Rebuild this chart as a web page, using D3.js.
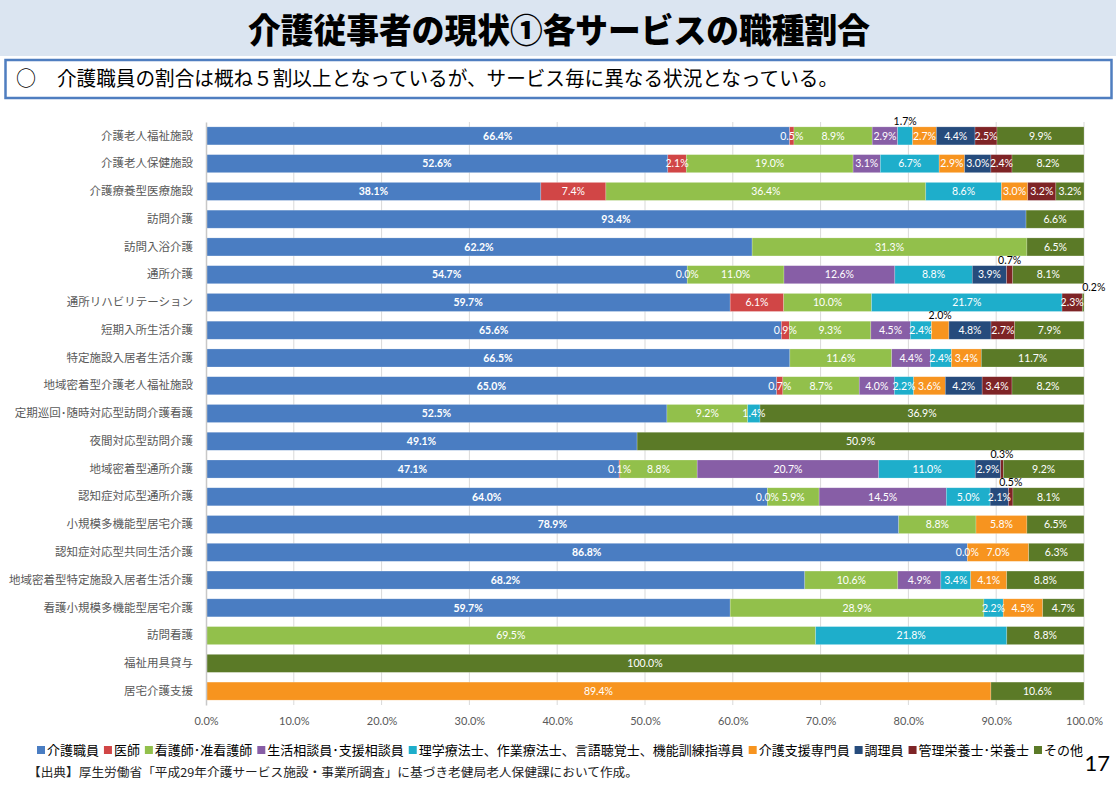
<!DOCTYPE html>
<html><head><meta charset="utf-8">
<script src="https://cdn.jsdelivr.net/npm/d3@7"></script>
<style>body{margin:0;background:#fff}</style>
</head><body>
<svg id="c" width="1116" height="785"></svg>
<script>
const categories = ["介護老人福祉施設","介護老人保健施設","介護療養型医療施設","訪問介護","訪問入浴介護","通所介護","通所リハビリテーション","短期入所生活介護","特定施設入居者生活介護","地域密着型介護老人福祉施設","定期巡回･随時対応型訪問介護看護","夜間対応型訪問介護","地域密着型通所介護","認知症対応型通所介護","小規模多機能型居宅介護","認知症対応型共同生活介護","地域密着型特定施設入居者生活介護","看護小規模多機能型居宅介護","訪問看護","福祉用具貸与","居宅介護支援"];
const seriesNames = ["介護職員","医師","看護師･准看護師","生活相談員･支援相談員","理学療法士、作業療法士、言語聴覚士、機能訓練指導員","介護支援専門員","調理員","管理栄養士･栄養士","その他"];
const seriesColors = ["#4a7dc2","#d14646","#92c04b","#875ea6","#1eaecb","#f7941f","#264b7c","#7e2426","#5b7a27"];

const careWorker   = [66.4,52.6,38.1,93.4,62.2,54.7,59.7,65.6,66.5,65.0,52.5,49.1,47.1,64.0,78.9,86.8,68.2,59.7,null,null,null];
const doctor       = [0.5,2.1,7.4,null,null,0.0,6.1,0.9,null,0.7,null,null,0.1,0.0,null,0.0,null,null,null,null,null];
const nurse        = [8.9,19.0,36.4,null,31.3,11.0,10.0,9.3,11.6,8.7,9.2,null,8.8,5.9,8.8,null,10.6,28.9,69.5,null,null];
const counselor    = [2.9,3.1,null,null,null,12.6,null,4.5,4.4,4.0,null,null,20.7,14.5,null,null,4.9,null,null,null,null];
const therapist    = [1.7,6.7,8.6,null,null,8.8,21.7,2.4,2.4,2.2,1.4,null,11.0,5.0,null,null,3.4,2.2,21.8,null,null];
const careManager  = [2.7,2.9,3.0,null,null,null,null,2.0,3.4,3.6,null,null,null,null,5.8,7.0,4.1,4.5,null,null,89.4];
const cook         = [4.4,3.0,null,null,null,3.9,null,4.8,null,4.2,null,null,2.9,2.1,null,null,null,null,null,null,null];
const dietitian    = [2.5,2.4,3.2,null,null,0.7,2.3,2.7,null,3.4,null,null,0.3,0.5,null,null,null,null,null,null,null];
const other        = [9.9,8.2,3.2,6.6,6.5,8.1,0.2,7.9,11.7,8.2,36.9,50.9,9.2,8.1,6.5,6.3,8.8,4.7,8.8,100.0,10.6];
const seriesValues = [careWorker,doctor,nurse,counselor,therapist,careManager,cook,dietitian,other];

const tickValues = [0,0.1,0.2,0.3,0.4,0.5,0.6,0.7,0.8,0.9,1.0];
// labels drawn above the bar: [category index, series index]
const labelsAbove = [[0,4],[5,7],[6,8],[7,5],[12,7],[13,7]];

const title = "介護従事者の現状①各サービスの職種割合";
const subtitle = "介護職員の割合は概ね５割以上となっているが、サービス毎に異なる状況となっている。";
const source = "【出典】厚生労働省「平成29年介護サービス施設・事業所調査」に基づき老健局老人保健課において作成。";
const pageNo = "17";

const svg = d3.select("#c");
const JP = "'Noto Sans CJK JP','Noto Sans',sans-serif";
const NUM = "Lato,'Noto Sans',sans-serif";

// header
svg.append("rect").attr("x",0).attr("y",0).attr("width",1116).attr("height",56).attr("fill","#dbe5f1");
svg.append("text").attr("x",559).attr("y",43).attr("text-anchor","middle")
  .attr("font-family",JP).attr("font-weight",900).attr("font-size",34)
  .attr("textLength",622).attr("lengthAdjust","spacingAndGlyphs").attr("fill","#000").text(title);
svg.append("rect").attr("x",5.5).attr("y",60).attr("width",1106).attr("height",38)
  .attr("fill","#fff").attr("stroke","#4f7ec0").attr("stroke-width",2.5);
svg.append("text").attr("x",16).attr("y",86).attr("font-family",JP).attr("font-size",20).attr("fill","#000").text("○");
svg.append("text").attr("x",57).attr("y",86).attr("font-family",JP).attr("font-size",20)
  .attr("textLength",781).attr("lengthAdjust","spacingAndGlyphs").attr("fill","#000").text(subtitle);

// chart
const x = d3.scaleLinear().domain([0,1]).range([206,1084]);
const y = d3.scaleBand().domain(categories).range([122,705]).paddingInner(0.35).paddingOuter(0.175);

const table = categories.map((c,i)=>{
  const o = {cat:c};
  seriesNames.forEach((s,k)=>{ o[s] = seriesValues[k][i]; });
  return o;
});
const stack = d3.stack().keys(seriesNames).value((d,k)=> d[k] ?? 0).offset(d3.stackOffsetExpand);
const layers = stack(table);

// grid
svg.append("g").selectAll("line").data(tickValues.slice(1)).join("line")
  .attr("x1",d=>x(d)).attr("x2",d=>x(d)).attr("y1",122).attr("y2",705)
  .attr("stroke","#d9d9d9").attr("stroke-width",1);

// bars
layers.forEach((layer,k)=>{
  svg.append("g").selectAll("rect").data(layer.filter(d=>d.data[seriesNames[k]]!=null)).join("rect")
    .attr("x",d=>x(d[0])).attr("width",d=>Math.max(0,x(d[1])-x(d[0])))
    .attr("y",d=>y(d.data.cat)).attr("height",y.bandwidth())
    .attr("fill",seriesColors[k]).attr("stroke","rgba(255,255,255,0.35)").attr("stroke-width",0.6);
});

// y axis
const ya = svg.append("g").attr("transform",`translate(${x(0)},0)`).call(d3.axisLeft(y).tickSize(0).tickPadding(13));
ya.select(".domain").attr("stroke","#c8c8c8").attr("stroke-width",1.5);
ya.selectAll("text").attr("font-family",JP).attr("font-size",11.5).attr("fill","#595959");

// x axis
const xa = svg.append("g").attr("transform","translate(0,705)")
  .call(d3.axisBottom(x).tickValues(tickValues).tickFormat(d3.format(".1%")).tickSize(0).tickPadding(12));
xa.select(".domain").remove();
xa.selectAll("text").attr("font-family",NUM).attr("font-size",11).attr("fill","#595959");

// labels
const isAbove = (i,k)=> labelsAbove.some(p=>p[0]===i && p[1]===k);
layers.forEach((layer,k)=>{
  layer.forEach((d,i)=>{
    const v = d.data[seriesNames[k]];
    if (v==null) return;
    const cx = (x(d[0])+x(d[1]))/2;
    const t = svg.append("text").attr("font-family",NUM).attr("font-size",10.5).text(v.toFixed(1)+"%");
    if (isAbove(i,k)) {
      const top = y(d.data.cat);
      const nearEnd = x(d[1]) >= x(1)-1 && (x(d[1])-x(d[0]))<5;
      t.attr("x", nearEnd ? x(d[0]) : cx).attr("y", top-2)
        .attr("text-anchor", nearEnd ? "start" : "middle").attr("fill","#000");
    } else {
      t.attr("x",cx).attr("y",y(d.data.cat)+y.bandwidth()/2).attr("dy","0.36em")
        .attr("text-anchor","middle").attr("fill","#fff")
        .attr("font-weight", k===0 ? "bold" : "normal");
    }
  });
});

// legend
const lg = svg.append("g");
const items = seriesNames.map((s,k)=>{
  const g = lg.append("g");
  g.append("rect").attr("width",8).attr("height",8).attr("y",-4).attr("fill",seriesColors[k]);
  const t = g.append("text").attr("x",10).attr("dy","0.36em").attr("font-family",JP).attr("font-size",13).attr("fill","#000").text(s);
  return {g, w: 10 + t.node().getComputedTextLength()};
});
const totalW = d3.sum(items,d=>d.w);
const gap = (1083-37-totalW)/(items.length-1);
let cx0 = 37;
items.forEach(it=>{ it.g.attr("transform",`translate(${cx0},750)`); cx0 += it.w + gap; });

// source & page number
svg.append("text").attr("x",28).attr("y",777).attr("font-family",JP).attr("font-size",12)
  .attr("textLength",610).attr("lengthAdjust","spacingAndGlyphs").attr("fill","#222").text(source);
svg.append("text").attr("x",1110).attr("y",771).attr("text-anchor","end").attr("font-family",NUM)
  .attr("font-size",22).attr("fill","#000").text(pageNo);
</script>
</body></html>
